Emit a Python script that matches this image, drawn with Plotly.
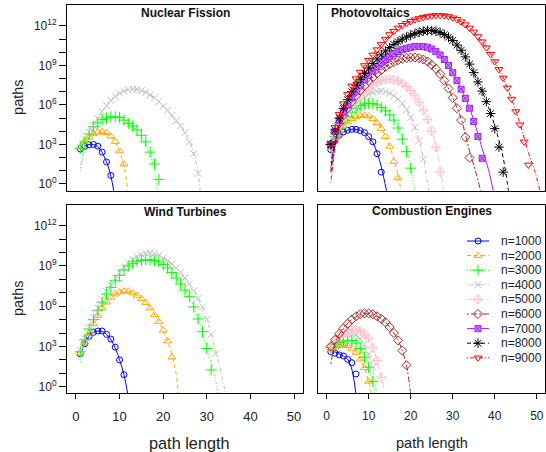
import plotly.graph_objects as go

# ---------------- data (log10 of number of paths, at path length 1, 2, 3, ...) ----------------
series_names = ["n=1000", "n=2000", "n=3000", "n=4000", "n=5000", "n=6000", "n=7000", "n=8000", "n=9000"]
panel_titles = ["Nuclear Fission", "Photovoltaics", "Wind Turbines", "Combustion Engines"]
x_ticks = [0, 10, 20, 30, 40, 50]
y_label_exponents = [0, 3, 6, 9, 12]
y_minor_exponents = [1, 2, 4, 5, 7, 8, 10, 11]

# Nuclear Fission
nf_1000 = [2.65, 2.85, 2.97, 3.0, 2.87, 2.42, 1.67, 0.65]
nf_2000 = [2.8, 3.25, 3.55, 3.8, 3.93, 3.97, 3.88, 3.62, 3.22, 2.5, 1.5]
nf_3000 = [2.7, 3.2, 3.8, 4.35, 4.65, 4.9, 5.0, 5.1, 5.1, 5.05, 4.85, 4.6, 4.4, 4.1, 3.7, 3.2, 2.42, 1.52, 0.35]
nf_4000 = [2.8, 3.4, 3.95, 4.45, 4.95, 5.5, 5.95, 6.35, 6.65, 6.9, 7.05, 7.15, 7.2, 7.18, 7.1, 6.95,
           6.75, 6.55, 6.25, 5.9, 5.6, 5.2, 4.8, 4.4, 3.9, 3.2, 2.3, 0.8]
nf_1000_fit_x = [1, 2, 3, 4, 5, 6, 7, 8, 8.7]
nf_1000_fit = [2.55, 2.85, 3.0, 3.0, 2.82, 2.38, 1.68, 0.6, -0.6]
nf_2000_fit_x = [1, 2, 3, 5, 7, 8, 9, 10, 11, 11.9]
nf_2000_fit = [2.45, 3.1, 3.5, 3.93, 3.86, 3.6, 3.15, 2.45, 1.4, -0.6]
nf_3000_fit_x = [1, 2, 3, 5, 7, 9, 11, 13, 15, 16, 17, 18, 18.6]
nf_3000_fit = [1.0, 2.6, 3.55, 4.6, 5.05, 5.1, 4.85, 4.35, 3.6, 3.0, 2.25, 1.1, -0.6]
nf_4000_fit_x = [1, 2, 4, 7, 10, 13, 16, 19, 22, 24, 26, 27, 28, 28.5]
nf_4000_fit = [1.2, 2.9, 4.4, 5.95, 6.9, 7.2, 6.95, 6.25, 5.2, 4.4, 3.2, 2.3, 0.9, -0.6]

# Photovoltaics
pv_1000 = [2.6, 3.3, 3.7, 3.95, 4.08, 4.15, 4.15, 4.05, 3.9, 3.6, 3.2, 2.3, 0.9]
pv_2000 = [2.9, 3.5, 4.0, 4.4, 4.7, 4.95, 5.1, 5.2, 5.22, 5.15, 4.95, 4.65, 4.2, 3.6, 2.85, 1.7, 0.45]
pv_3000 = [3.0, 3.6, 4.2, 4.7, 5.1, 5.45, 5.75, 5.95, 6.08, 6.12, 6.1, 6.0, 5.8, 5.55, 5.25, 4.85, 4.25, 3.4, 2.45, 1.2]
pv_4000 = [3.0, 3.7, 4.3, 4.85, 5.3, 5.7, 6.05, 6.35, 6.6, 6.8, 6.95, 7.03, 7.05, 7.0, 6.9, 6.7, 6.45, 6.1,
           5.65, 5.05, 4.3, 3.3, 1.9]
pv_5000 = [3.05, 3.8, 4.45, 5.0, 5.5, 5.95, 6.35, 6.7, 7.0, 7.3, 7.5, 7.7, 7.85, 7.93, 7.95, 7.92, 7.82, 7.65,
           7.4, 7.1, 6.7, 6.2, 5.6, 4.9, 4.0, 2.8, 0.9]
pv_6000 = [3.0, 3.9, 4.6, 5.2, 5.75, 6.25, 6.7, 7.1, 7.45, 7.8, 8.1, 8.4, 8.65, 8.9, 9.1, 9.25, 9.4, 9.5, 9.57,
           9.6, 9.6, 9.55, 9.45, 9.3, 9.05, 8.75, 8.35, 7.85, 7.25, 6.55, 5.75, 4.85, 3.55, 2.0]
pv_7000 = [3.0, 4.0, 4.8, 5.45, 6.0, 6.55, 7.05, 7.5, 7.9, 8.25, 8.6, 8.9, 9.2, 9.45, 9.7, 9.9, 10.05, 10.2,
           10.3, 10.38, 10.43, 10.45, 10.43, 10.38, 10.25, 10.05, 9.8, 9.45, 9.0, 8.45, 7.85, 7.2, 6.5, 5.75,
           4.75, 3.6, 1.95]
pv_8000 = [3.0, 4.1, 5.0, 5.75, 6.4, 7.0, 7.5, 7.95, 8.4, 8.8, 9.15, 9.5, 9.8, 10.1, 10.35, 10.6, 10.8, 11.0,
           11.15, 11.3, 11.42, 11.52, 11.6, 11.65, 11.65, 11.6, 11.5, 11.35, 11.15, 10.9, 10.55, 10.15, 9.65,
           9.1, 8.45, 7.75, 7.05, 6.25, 5.35, 4.2, 2.8, 0.9]
pv_9000 = [3.1, 4.3, 5.3, 6.1, 6.8, 7.45, 8.0, 8.5, 9.0, 9.4, 9.8, 10.2, 10.6, 11.0, 11.35, 11.6, 11.85, 12.05,
           12.2, 12.35, 12.47, 12.57, 12.65, 12.72, 12.77, 12.8, 12.8, 12.78, 12.72, 12.62, 12.5, 12.32, 12.1,
           11.85, 11.55, 11.2, 10.8, 10.35, 9.85, 9.3, 8.7, 8.05, 7.3, 6.45, 5.5, 4.5, 3.2, 1.45]
pv_1000_fit_x = [1, 2, 3, 5, 7, 9, 10, 11, 12, 13, 14.3]
pv_1000_fit = [2.4, 3.3, 3.7, 4.08, 4.15, 3.9, 3.6, 3.15, 2.4, 1.3, -0.6]
pv_2000_fit_x = [1, 2, 3, 5, 7, 9, 11, 13, 14, 15, 16, 17, 17.7]
pv_2000_fit = [2.5, 3.4, 3.95, 4.7, 5.1, 5.22, 4.95, 4.2, 3.6, 2.85, 1.85, 0.7, -0.6]
pv_3000_fit_x = [1, 2, 3, 4, 6, 8, 10, 12, 14, 16, 17, 18, 19, 20, 21]
pv_3000_fit = [2.3, 3.5, 4.15, 4.65, 5.45, 5.95, 6.12, 6.0, 5.55, 4.85, 4.3, 3.5, 2.6, 1.35, -0.6]
pv_4000_fit_x = [1, 2, 3, 4, 6, 9, 12, 15, 18, 20, 21, 22, 23, 24.3]
pv_4000_fit = [2.2, 3.5, 4.25, 4.85, 5.7, 6.6, 7.03, 6.9, 6.1, 5.05, 4.3, 3.3, 2.0, -0.6]
pv_5000_fit_x = [1, 2, 3, 4, 6, 9, 12, 15, 18, 21, 23, 24, 25, 26, 27, 27.8]
pv_5000_fit = [2.0, 3.4, 4.3, 4.95, 5.95, 7.0, 7.7, 7.95, 7.65, 6.7, 5.6, 4.9, 4.0, 2.9, 1.3, -0.6]
pv_6000_fit_x = [1, 2, 3, 4, 5, 8, 12, 16, 20, 23, 26, 28, 30, 32, 34, 35.5, 36.7]
pv_6000_fit = [1.6, 3.3, 4.4, 5.1, 5.7, 7.1, 8.4, 9.25, 9.6, 9.45, 8.75, 7.85, 6.55, 4.95, 2.5, 0.9, -0.6]
pv_7000_fit_x = [1, 2, 3, 4, 5, 8, 12, 16, 20, 22, 25, 28, 31, 34, 36, 37, 38.5, 39.7]
pv_7000_fit = [1.2, 3.1, 4.4, 5.3, 6.0, 7.5, 8.9, 9.9, 10.38, 10.45, 10.25, 9.45, 7.85, 5.75, 3.8, 2.7, 1.1, -0.6]
pv_8000_fit_x = [1, 2, 3, 4, 5, 8, 12, 16, 20, 24, 28, 32, 36, 39, 41, 42, 43.3]
pv_8000_fit = [0.9, 3.0, 4.5, 5.5, 6.3, 7.95, 9.5, 10.6, 11.3, 11.65, 11.35, 10.15, 7.75, 5.4, 3.3, 2.0, -0.6]
pv_9000_fit_x = [1, 2, 3, 4, 5, 6, 9, 13, 17, 21, 25, 29, 33, 37, 41, 44, 46, 48, 49.5, 50.8]
pv_9000_fit = [0.1, 2.6, 4.3, 5.5, 6.5, 7.3, 9.0, 10.6, 11.85, 12.47, 12.77, 12.72, 12.1, 10.8, 8.7, 6.45, 4.6,
               2.4, 1.0, -0.6]

# Wind Turbines
wt_1000 = [2.45, 3.2, 3.75, 4.05, 4.15, 4.15, 3.9, 3.55, 2.95, 2.0, 0.9]
wt_2000 = [2.5, 3.3, 4.0, 4.7, 5.3, 5.85, 6.3, 6.65, 6.9, 7.05, 7.12, 7.12, 6.98, 6.8, 6.55, 6.25, 5.85,
           5.35, 4.85, 4.2, 3.4, 2.2]
wt_3000 = [2.6, 3.5, 4.3, 5.0, 5.7, 6.3, 6.9, 7.4, 7.9, 8.3, 8.7, 9.0, 9.2, 9.35, 9.42, 9.45, 9.45, 9.4, 9.3,
           9.1, 8.85, 8.5, 8.1, 7.65, 7.2, 6.71, 5.95, 5.05, 4.1, 2.85, 1.25]
wt_4000 = [2.7, 3.6, 4.4, 5.15, 5.85, 6.5, 7.1, 7.6, 8.1, 8.5, 8.9, 9.2, 9.5, 9.7, 9.85, 9.95, 10.0, 9.92,
           9.8, 9.6, 9.4, 9.15, 8.85, 8.5, 8.1, 7.65, 7.15, 6.58, 5.95, 5.0, 3.9, 2.45]
wt_1000_fit_x = [1, 2, 3, 4, 5, 6, 7, 8, 9, 10, 11, 11.9]
wt_1000_fit = [2.4, 3.2, 3.75, 4.05, 4.15, 4.12, 3.9, 3.5, 2.9, 2.0, 0.9, -0.6]
wt_2000_fit_x = [1, 2, 3, 5, 7, 9, 11, 13, 15, 17, 19, 20, 21, 22, 23, 23.5]
wt_2000_fit = [2.3, 3.3, 4.0, 5.3, 6.3, 6.9, 7.12, 6.98, 6.55, 5.85, 4.85, 4.2, 3.4, 2.4, 0.9, -0.6]
wt_3000_fit_x = [1, 2, 3, 4, 6, 9, 12, 15, 18, 21, 24, 26, 28, 30, 31, 32, 32.6]
wt_3000_fit = [1.8, 3.3, 4.3, 5.0, 6.3, 7.9, 9.0, 9.42, 9.4, 8.85, 7.65, 6.7, 5.05, 2.95, 1.8, 0.5, -0.6]
wt_4000_fit_x = [1, 2, 3, 5, 8, 11, 14, 17, 20, 23, 26, 28, 30, 32, 33, 34.4]
wt_4000_fit = [2.2, 3.5, 4.4, 5.85, 7.6, 8.9, 9.7, 10.0, 9.6, 8.85, 7.65, 6.6, 5.0, 2.7, 1.4, -0.6]

# Combustion Engines
ce_1000 = [2.6, 2.5, 2.37, 2.29, 2.04, 1.79, 0.95]
ce_2000 = [2.8, 2.95, 3.05, 3.1, 3.05, 2.85, 2.55, 2.05, 1.4, 0.4]
ce_3000 = [2.9, 3.15, 3.3, 3.4, 3.45, 3.45, 3.25, 2.85, 2.2, 1.45, 0.4]
ce_4000 = [3.0, 3.35, 3.65, 3.85, 3.95, 3.95, 3.85, 3.6, 3.15, 2.45, 1.45]
ce_5000 = [3.0, 3.4, 3.75, 4.0, 4.15, 4.25, 4.25, 4.15, 3.95, 3.6, 2.9, 1.95, 0.7]
ce_6000 = [3.0, 3.5, 3.95, 4.35, 4.7, 5.0, 5.25, 5.4, 5.47, 5.47, 5.4, 5.25, 5.05, 4.8, 4.45, 4.0, 3.45, 2.7, 1.6]
ce_1000_fit_x = [1, 3, 5, 5.5, 6, 6.5, 7.0]
ce_1000_fit = [2.7, 2.45, 2.05, 1.75, 1.3, 0.5, -0.6]
ce_2000_fit_x = [1, 2, 3, 4, 5, 6, 7, 8, 9, 10, 10.7]
ce_2000_fit = [2.6, 2.9, 3.05, 3.1, 3.05, 2.85, 2.55, 2.05, 1.4, 0.4, -0.6]
ce_3000_fit_x = [1, 2, 3, 4, 5, 6, 7, 8, 9, 10, 11, 11.6]
ce_3000_fit = [2.5, 3.05, 3.3, 3.4, 3.45, 3.4, 3.2, 2.8, 2.2, 1.4, 0.35, -0.6]
ce_4000_fit_x = [1, 2, 3, 4, 5, 6, 7, 8, 9, 10, 11, 11.9]
ce_4000_fit = [2.5, 3.25, 3.6, 3.85, 3.95, 3.95, 3.8, 3.55, 3.1, 2.4, 1.4, -0.6]
ce_5000_fit_x = [1, 2, 3, 4, 5, 6, 7, 8, 9, 10, 11, 12, 13, 13.8]
ce_5000_fit = [2.4, 3.3, 3.75, 4.0, 4.15, 4.25, 4.25, 4.15, 3.95, 3.55, 2.9, 1.95, 0.7, -0.6]
ce_6000_fit_x = [1, 2, 3, 4, 6, 9, 12, 15, 17, 18, 19, 20]
ce_6000_fit = [1.7, 3.2, 3.9, 4.35, 5.0, 5.47, 5.25, 4.45, 3.45, 2.7, 1.6, -0.6]

# ---------------- styling ----------------
colors = ["#0000FF", "#FFA500", "#00FF00", "#BEBEBE", "#FFC0CB", "#A52A2A", "#A020F0", "#000000", "#FF0000"]
fills = ["rgba(0,0,0,0)"] * 6 + ["#C98AF5"] + ["rgba(0,0,0,0)"] * 2
symbols = ["circle-open", "triangle-up-open", "cross-thin-open", "x-thin-open", "diamond-cross-open",
           "diamond-open", "square-x", "asterisk-open", "triangle-down-open"]
msizes = [6, 7, 8, 7, 7, 7, 6, 8, 7]
dashes = ["solid", "4px,3px", "1px,2px", "1px,2px,4px,2px", "7px,3px", "2px,2px,6px,2px",
          "solid", "4px,3px", "1px,2px,4px,2px"]


def marker_style(i):
    sym = symbols[i]
    col = fills[i] if sym == "square-x" else colors[i]
    return dict(symbol=sym, size=msizes[i], color=col, line=dict(color=colors[i], width=1))


panels = [
    ([nf_1000, nf_2000, nf_3000, nf_4000],
     [(nf_1000_fit_x, nf_1000_fit), (nf_2000_fit_x, nf_2000_fit), (nf_3000_fit_x, nf_3000_fit),
      (nf_4000_fit_x, nf_4000_fit)]),
    ([pv_1000, pv_2000, pv_3000, pv_4000, pv_5000, pv_6000, pv_7000, pv_8000, pv_9000],
     [(pv_1000_fit_x, pv_1000_fit), (pv_2000_fit_x, pv_2000_fit), (pv_3000_fit_x, pv_3000_fit),
      (pv_4000_fit_x, pv_4000_fit), (pv_5000_fit_x, pv_5000_fit), (pv_6000_fit_x, pv_6000_fit),
      (pv_7000_fit_x, pv_7000_fit), (pv_8000_fit_x, pv_8000_fit), (pv_9000_fit_x, pv_9000_fit)]),
    ([wt_1000, wt_2000, wt_3000, wt_4000],
     [(wt_1000_fit_x, wt_1000_fit), (wt_2000_fit_x, wt_2000_fit), (wt_3000_fit_x, wt_3000_fit),
      (wt_4000_fit_x, wt_4000_fit)]),
    ([ce_1000, ce_2000, ce_3000, ce_4000, ce_5000, ce_6000],
     [(ce_1000_fit_x, ce_1000_fit), (ce_2000_fit_x, ce_2000_fit), (ce_3000_fit_x, ce_3000_fit),
      (ce_4000_fit_x, ce_4000_fit), (ce_5000_fit_x, ce_5000_fit), (ce_6000_fit_x, ce_6000_fit)]),
]

W, H = 546, 452
FONT = "Liberation Sans, Arial, Helvetica, sans-serif"
# panel boxes in pixels: (left, right, top, bottom)
boxes = [(67, 303, 5, 190.7), (318, 545, 5, 190.7), (67, 303, 205, 393.3), (318, 545, 205, 393.3)]
xranges = [[-2.06, 52.06], [-2.05, 51.95], [-2.06, 52.06], [-2.05, 51.95]]
yranges = [[-0.51, 13.59], [-0.51, 13.59], [-0.49, 13.54], [-0.49, 13.54]]

fig = go.Figure()

for p, (marks, fits) in enumerate(panels):
    ax = "" if p == 0 else str(p + 1)
    for i, (vals, (fx, fy)) in enumerate(zip(marks, fits)):
        fig.add_trace(go.Scatter(
            x=fx, y=[10 ** v for v in fy], mode="lines", xaxis="x" + ax, yaxis="y" + ax,
            line=dict(color=colors[i], width=1, dash=dashes[i], shape="spline", smoothing=1.0),
            showlegend=False, hoverinfo="skip"))
        fig.add_trace(go.Scatter(
            x=list(range(1, len(vals) + 1)), y=[10 ** v for v in vals], mode="markers",
            xaxis="x" + ax, yaxis="y" + ax, marker=marker_style(i),
            showlegend=False, name=series_names[i]))

layout = dict(width=W, height=H, margin=dict(l=0, r=0, t=0, b=0),
              paper_bgcolor="white", plot_bgcolor="rgba(0,0,0,0)",
              font=dict(family=FONT, size=12, color="black"), showlegend=False)

for p, (l, r, t, b) in enumerate(boxes):
    ax = "" if p == 0 else str(p + 1)
    left_col = p in (0, 2)
    bottom_row = p in (2, 3)
    xa = dict(domain=[l / W, r / W], range=xranges[p], showline=True, mirror=True, linecolor="black",
              linewidth=1, showgrid=False, zeroline=False, anchor="y" + ax,
              tickvals=x_ticks if bottom_row else [], ticks="outside" if bottom_row else "",
              ticklen=5, tickcolor="black", showticklabels=bottom_row,
              tickfont=dict(size=13 if left_col else 12, color="#222"), ticklabelstandoff=6)
    ya = dict(domain=[1 - b / H, 1 - t / H], type="log", range=yranges[p], showline=True, mirror=True,
              linecolor="black", linewidth=1, showgrid=False, zeroline=False, anchor="x" + ax,
              showticklabels=left_col, tickfont=dict(size=12, color="#222"))
    if left_col:
        ya.update(tickvals=[10 ** k for k in y_label_exponents],
                  ticktext=["10<sup>%d</sup>" % k for k in y_label_exponents],
                  ticks="outside", ticklen=7, tickcolor="black",
                  minor=dict(tickvals=[10 ** k for k in y_minor_exponents], ticks="outside", ticklen=7,
                             tickcolor="black", showgrid=False))
    else:
        ya.update(tickvals=[], ticks="")
    layout["xaxis" + ax] = xa
    layout["yaxis" + ax] = ya

# overlay axis in pixel units for the legend keys
layout["xaxis5"] = dict(domain=[0, 1], range=[0, W], visible=False, anchor="y5")
layout["yaxis5"] = dict(domain=[0, 1], range=[H, 0], visible=False, anchor="x5")

fig.update_layout(**layout)

leg_x0, leg_x1, leg_top, leg_step = 467, 489, 241, 14.6
annotations = []
for i, name in enumerate(series_names):
    yy = leg_top + i * leg_step
    fig.add_trace(go.Scatter(x=[leg_x0, leg_x1], y=[yy, yy], mode="lines", xaxis="x5", yaxis="y5",
                             line=dict(color=colors[i], width=1, dash=dashes[i]),
                             showlegend=False, hoverinfo="skip"))
    fig.add_trace(go.Scatter(x=[(leg_x0 + leg_x1) / 2], y=[yy], mode="markers", xaxis="x5", yaxis="y5",
                             marker=marker_style(i), showlegend=False, hoverinfo="skip"))
    annotations.append(dict(x=499 / W, y=1 - yy / H, xref="paper", yref="paper", text=name,
                            showarrow=False, xanchor="left", yanchor="middle",
                            font=dict(size=12, color="#222")))

# panel titles
title_pos = [(185, 12.8, "center"), (329, 12.8, "left"), (185, 211.7, "center"), (432, 211, "center")]
for (tx, ty, anc), ttl in zip(title_pos, panel_titles):
    annotations.append(dict(x=tx / W, y=1 - ty / H, xref="paper", yref="paper", text="<b>%s</b>" % ttl,
                            showarrow=False, xanchor=anc, yanchor="middle", font=dict(size=12, color="#111")))

# axis titles
for cy in (97.9, 299):
    annotations.append(dict(x=18 / W, y=1 - cy / H, xref="paper", yref="paper", text="paths", textangle=-90,
                            showarrow=False, xanchor="center", yanchor="middle", font=dict(size=14.5, color="#222")))
for cx, fs in ((189, 16.3), (431.5, 14.5)):
    annotations.append(dict(x=cx / W, y=1 - 443 / H, xref="paper", yref="paper", text="path length",
                            showarrow=False, xanchor="center", yanchor="middle", font=dict(size=fs, color="#222")))

fig.update_layout(annotations=annotations)
fig.write_html("out.html", config={"displayModeBar": False},
               post_script="document.body.style.margin='0';document.body.style.overflow='hidden';")
